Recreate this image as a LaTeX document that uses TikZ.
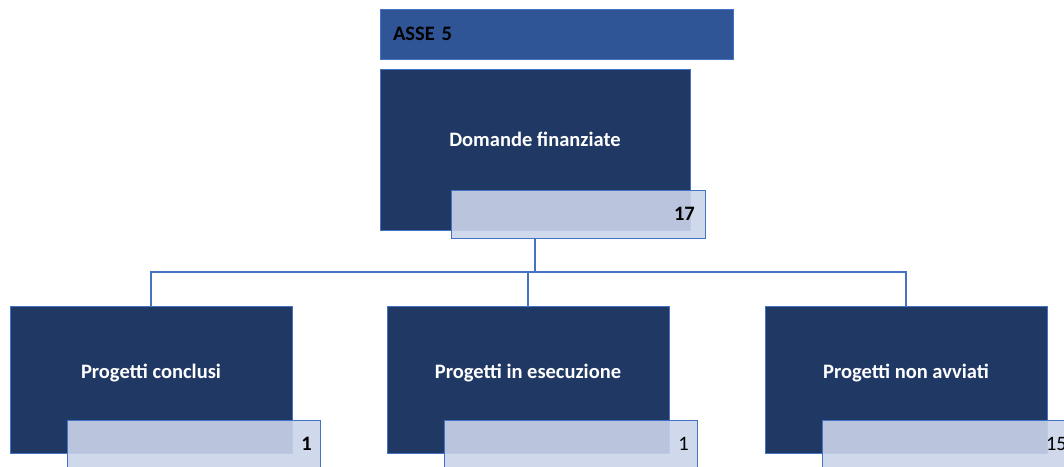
\documentclass[tikz,border=0pt]{standalone}
\usepackage{fontspec}
\setmainfont{Carlito}
\usepackage{xcolor}
\definecolor{asseBlue}{HTML}{2F5597}
\definecolor{boxNavy}{HTML}{203864}
\definecolor{edgeBlue}{HTML}{4472C4}
\definecolor{valFill}{HTML}{CBD4EA}
\usetikzlibrary{positioning}

\begin{document}
\begin{tikzpicture}[x=1pt, y=-1pt,
  font=\fontsize{20.5}{24}\selectfont\bfseries,
  header/.style={fill=asseBlue, draw=edgeBlue, line width=0.8pt, minimum width=353pt, minimum height=50pt,
    text width=327pt, align=left, inner sep=0pt},
  bigbox/.style={fill=boxNavy, draw=edgeBlue, line width=0.8pt, minimum width=#1, minimum height=147pt, inner sep=0pt},
  boxtext/.style={text=white},
  valbox/.style={fill=valFill, fill opacity=0.9, draw=edgeBlue, line width=0.8pt,
    minimum width=253pt, minimum height=48pt, inner sep=0pt},
  valtext/.style={text=black, anchor=east},
  conn/.style={draw=edgeBlue, line width=1.1pt}]
  \useasboundingbox (0,0) rectangle (1064,466);
  \clip (0,0) rectangle (1064,466);
  % header and top box
  \node[header] (asse) at (556.5,34) {ASSE 5};
  \node[bigbox=310pt, minimum height=161pt] (dom) at (535,149.5) {};
  \node[boxtext] (domT) at ([yshift=10.5pt]dom.center) {Domande finanziate};
  \node[valbox, minimum width=254pt] (v0) at (578,214) {};
  \node[valtext] (v0T) at ([xshift=-7pt]v0.east) {17};
  % children
  \node[bigbox=282pt] (c1) at (151,379.5) {};
  \node[bigbox=282pt] (c2) at (528,379.5) {};
  \node[bigbox=282pt] (c3) at (906,379.5) {};
  \node[boxtext] (c1T) at ([yshift=6.5pt]c1.center) {Progetti conclusi};
  \node[boxtext] (c2T) at ([yshift=6.5pt]c2.center) {Progetti in esecuzione};
  \node[boxtext] (c3T) at ([yshift=6.5pt]c3.center) {Progetti non avviati};
  \node[valbox] (v1) at ([xshift=42.5pt]c1.south |- 0,444) {};
  \node[valbox] (v2) at ([xshift=42.5pt]c2.south |- 0,444) {};
  \node[valbox] (v3) at ([xshift=42.5pt]c3.south |- 0,444) {};
  \node[valtext] (v1T) at ([xshift=-5pt]v1.east) {1};
  \node[valtext, font=\fontsize{20.5}{24}\selectfont] (v2T) at ([xshift=-5pt]v2.east) {1};
  \node[valtext, font=\fontsize{20.5}{24}\selectfont] (v3T) at ([xshift=-5pt]v3.east) {15};
  % connectors
  \coordinate (bus) at (535,272);
  \draw[conn] (dom.center |- v0.south) -- (bus);
  \draw[conn] (c1.north) |- (bus) -| (c3.north);
  \draw[conn] (bus -| c2.north) -- (c2.north);
\end{tikzpicture}
\end{document}
